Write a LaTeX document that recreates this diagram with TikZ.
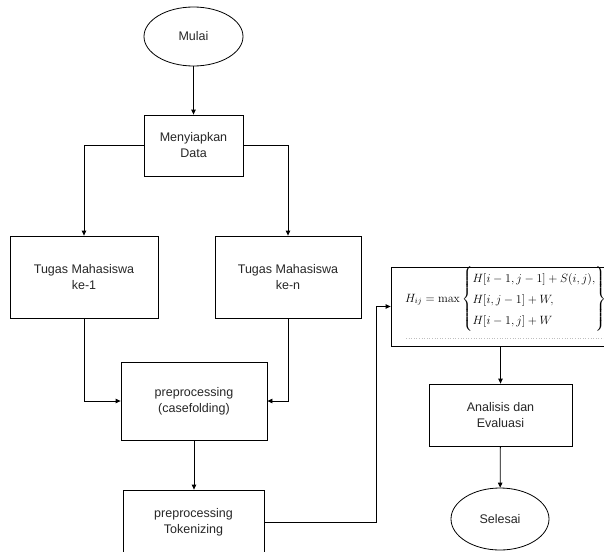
\documentclass[tikz,border=0pt]{standalone}
\usepackage[no-math]{fontspec}
\setmainfont{Liberation Sans}
\usepackage{amsmath}
\usetikzlibrary{shapes.geometric,arrows.meta}
\tikzset{
  box/.style={draw=black, line width=0.8pt, rectangle, inner sep=0pt, align=center,
    font=\fontsize{12.5}{16}\selectfont, text=black!85},
  oval/.style={draw=black, line width=0.8pt, ellipse, inner sep=0pt, align=center,
    font=\fontsize{12.5}{16}\selectfont, text=black!85},
  arr/.style={line width=0.8pt, -{Triangle[length=5pt,width=4.5pt]}},
  conn/.style={line width=0.8pt}
}
\begin{document}
\begin{tikzpicture}[x=1pt,y=-1pt]
\useasboundingbox (0,0) rectangle (604,551);
\node[oval, minimum width=99pt, minimum height=59pt] (mulai) at (193.5,36.5) {Mulai};
\node[box, minimum width=99pt, minimum height=61pt] (prep) at (193.5,145.5) {Menyiapkan\\Data};
\node[box, minimum width=148pt, minimum height=82pt] (t1) at (84,277) {Tugas Mahasiswa\\ke-1};
\node[box, minimum width=146pt, minimum height=82pt] (tn) at (288,277) {Tugas Mahasiswa\\ke-n};
\node[box, minimum width=146pt, minimum height=78pt] (cf) at (194,401) {preprocessing\\(casefolding)};
\node[box, minimum width=141pt, minimum height=64pt] (tok) at (193.5,522) {preprocessing\\Tokenizing};
\node[box, minimum width=221pt, minimum height=79pt] (form) at (501.5,306.5) {};
\node[anchor=west, inner sep=0pt, font=\fontsize{12.1}{16}\selectfont] (formtext) at (405,299)
  {$\renewcommand{\arraystretch}{1.32}H_{ij}=\max\left\{\begin{array}{@{}l@{}}H[i-1,j-1]+S(i,j),\\ H[i,j-1]+W,\\ H[i-1,j]+W\end{array}\right\}$};
\node[box, minimum width=143pt, minimum height=62pt] (ana) at (500.5,415) {Analisis dan\\Evaluasi};
\node[oval, minimum width=98pt, minimum height=62pt] (sel) at (500,519) {Selesai};
\coordinate (bend) at (376,306.5);
\coordinate (fl1) at (406,338);
\coordinate (fl2) at (604,338);
\draw[black!25, dotted, line width=0.6pt] (fl1) -- (fl2);
\draw[arr] (mulai) -- (prep);
\draw[arr] (prep.west) -| (t1.north);
\draw[arr] (prep.east) -| (tn.north);
\draw[arr] (t1.south) |- (cf.west);
\draw[arr] (tn.south) |- (cf.east);
\draw[arr] (cf.south) -- (tok.north -| cf.south);
\draw[arr] (tok.east) -| (bend) -- (form.west);
\draw[arr] (ana.north |- form.south) -- (ana.north);
\draw[arr] (ana) -- (sel);
\end{tikzpicture}
\end{document}
